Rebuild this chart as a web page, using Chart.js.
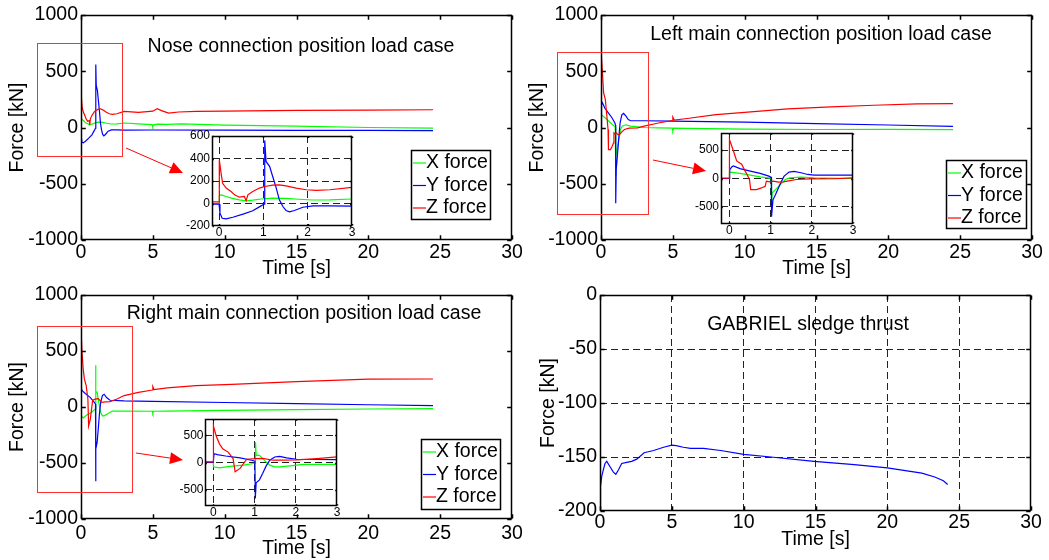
<!DOCTYPE html>
<html>
<head>
<meta charset="utf-8">
<title>Connection loads</title>
<script src="https://cdn.jsdelivr.net/npm/chart.js@4.4.0/dist/chart.umd.min.js"></script>
<style>
html, body { margin: 0; padding: 0; background: #fff; }
#fig { position: relative; width: 1049px; height: 560px; overflow: hidden; }
#fig canvas { position: absolute; }
</style>
</head>
<body>
<div id="fig">
  <canvas id="cNose"   width="540" height="280" style="left:0;top:0"></canvas>
  <canvas id="cLeft"   width="529" height="280" style="left:520px;top:0"></canvas>
  <canvas id="cRight"  width="540" height="280" style="left:0;top:280px"></canvas>
  <canvas id="cThrust" width="529" height="280" style="left:520px;top:280px"></canvas>
  <canvas id="iNose"   width="180" height="114" style="left:180px;top:126px"></canvas>
  <canvas id="iLeft"   width="172" height="115" style="left:689px;top:123px"></canvas>
  <canvas id="iRight"  width="172" height="111" style="left:173px;top:409px"></canvas>
</div>
<script>
// time [s] / force [kN] histories for each load case
const noseXt = [-0.16, 0, 0.005, 0.05, 0.16, 0.3, 0.46, 0.61, 0.76, 0.95, 1.2, 1.5, 1.8, 2.1, 2.5, 3.0, 4.0, 4.95, 5.0, 5.05, 5.3, 6.0, 7.0, 10, 15, 20, 24.5];
const noseXf = [0, 0, 70, 77, 62, 45, 33, 24, 30, 40, 48, 46, 38, 31, 32, 40, 33, 25, 8, 24, 30, 28, 32, 21, 12, 0, -6];
const noseYt = [-0.16, 0, 0.02, 0.07, 0.16, 0.31, 0.54, 0.76, 0.91, 1.02, 1.03, 1.06, 1.14, 1.21, 1.29, 1.36, 1.44, 1.51, 1.59, 1.70, 1.89, 2.12, 2.5, 3.0, 5, 10, 15, 20, 24.5];
const noseYf = [-6, -6, -86, -131, -137, -122, -95, -65, -30, -5, 561, 374, 330, 240, 137, 33, -27, -62, -74, -62, -33, -21, -21, -24, -22, -24, -25, -26, -27];
const noseZt = [-0.16, 0, 0.005, 0.045, 0.08, 0.16, 0.27, 0.35, 0.46, 0.57, 0.61, 0.65, 0.76, 0.91, 1.03, 1.21, 1.36, 1.51, 1.74, 1.97, 2.19, 2.5, 3.0, 4.0, 5.0, 5.3, 5.6, 6.1, 6.8, 8, 10, 15, 20, 24.5];
const noseZf = [15, 15, 389, 270, 180, 137, 107, 77, 56, 62, 24, 77, 107, 137, 151, 163, 166, 157, 137, 122, 116, 122, 143, 135, 145, 167, 150, 128, 138, 143, 146, 152, 155, 158];

const leftXt = [-0.2, 0, 0.005, 0.03, 0.26, 0.51, 0.75, 0.99, 1.02, 1.025, 1.04, 1.12, 1.24, 1.36, 1.47, 1.74, 2.06, 3.0, 4.0, 4.97, 5.0, 5.05, 6, 10, 15, 20, 24.5];
const leftXf = [0, 0, 100, 113, 89, 60, 30, 6, 0, -434, -256, -196, -107, -18, 12, 24, 12, 0, -3, -5, -30, -6, -8, -15, -18, -17, -18];
const leftYt = [-0.2, 0, 0.01, 0.06, 0.1, 0.26, 0.51, 0.75, 0.96, 1.02, 1.025, 1.06, 1.12, 1.24, 1.33, 1.45, 1.57, 1.74, 1.9, 2.06, 3.0, 5, 10, 15, 20, 24.5];
const leftYf = [0, 0, 150, 202, 220, 173, 131, 89, 42, 20, -673, -375, -286, -89, 42, 113, 125, 101, 71, 60, 60, 57, 47, 35, 22, 10];
const leftZt = [-0.2, 0, 0.005, 0.1, 0.18, 0.30, 0.43, 0.49, 0.52, 0.66, 0.78, 0.87, 0.9, 0.99, 1.07, 1.19, 1.31, 1.47, 1.63, 1.96, 2.54, 3.0, 4.0, 4.97, 5.0, 5.1, 6, 8, 10, 13, 16, 19, 22, 24.5];
const leftZf = [5, 5, 684, 488, 309, 250, 71, -18, -196, -196, -166, -137, -48, -59, -48, -65, -60, -36, -18, -6, -4, 12, 40, 62, 92, 66, 80, 115, 135, 165, 183, 198, 210, 213];

const rightXt = [-0.2, 0, 0.005, 0.15, 0.4, 0.73, 0.98, 1.02, 1.025, 1.04, 1.12, 1.2, 1.28, 1.37, 1.49, 1.61, 1.86, 2.18, 3.0, 4.97, 5.0, 5.05, 6, 10, 15, 20, 24.5];
const rightXf = [10, 10, -79, -97, -72, -49, -18, -10, 372, 132, 132, 72, 11, -49, -79, -79, -61, -36, -36, -38, -55, -38, -37, -30, -24, -18, -15];
const rightYt = [-0.2, 0, 0.02, 0.1, 0.3, 0.65, 0.93, 1.01, 1.02, 1.04, 1.12, 1.2, 1.28, 1.37, 1.49, 1.61, 1.78, 2.02, 3.0, 5, 10, 15, 20, 24.5];
const rightYf = [0, 0, 162, 144, 120, 84, 42, 24, -662, -374, -319, -199, -67, 42, 102, 114, 84, 60, 54, 50, 40, 30, 20, 12];
const rightZt = [-0.2, 0, 0.005, 0.07, 0.15, 0.23, 0.36, 0.48, 0.53, 0.65, 0.81, 1.04, 1.2, 1.45, 1.69, 2.02, 2.51, 3.0, 4.0, 4.97, 5.0, 5.08, 6, 8, 10.5, 15, 20, 24.5];
const rightZf = [10, 10, 670, 493, 343, 253, 191, 72, -170, -108, 60, 72, 75, 42, 45, 48, 72, 102, 130, 152, 182, 156, 170, 190, 202, 226, 248, 250];

const thrustT = [0, 0.02, 0.05, 0.12, 0.23, 0.35, 0.47, 0.7, 0.93, 1.1, 1.28, 1.51, 1.86, 2.2, 2.56, 3.07, 3.73, 4.43, 5.0, 5.3, 5.8, 6.3, 7.2, 8.4, 10, 11.9, 14.9, 17.7, 20, 22.4, 23.3, 23.9, 24.2];
const thrustF = [-199, -185, -177, -168, -162, -156, -154, -159, -164, -166, -162, -156, -155, -154, -152, -146, -144, -141, -139, -139.5, -141, -142, -142, -144, -147.5, -150, -154, -157, -160, -165, -168.5, -172, -175.5];

// tick labels
const timeTicks = [0, 5, 10, 15, 20, 25, 30];
const forceTicks = [-1000, -500, 0, 500, 1000];
const thrustTicks = [-200, -150, -100, -50, 0];
const zoomTimeTicks = [0, 1, 2, 3];
const noseZoomTicks = [-200, 0, 200, 400, 600];
const mainZoomTicks = [-500, 0, 500];

const FONT = '"Liberation Sans", Arial, Helvetica, sans-serif';
const BIG = 19.5;
Chart.defaults.font.family = FONT;
Chart.defaults.color = '#000';

// text, legend and zoom markers drawn over each panel (canvas pixels)
const notes = {
  cNose:   { title: ['Nose connection position load case', 301, 52], legend: [411, 150, 79, 69],
             rect: [37, 43, 85, 113], arrow: [126, 148, 183, 173] },
  cLeft:   { title: ['Left main connection position load case', 301, 40], legend: [426, 160, 80, 68],
             rect: [37, 52, 91, 162], arrow: [133, 160, 186, 171] },
  cRight:  { title: ['Right main connection position load case', 304, 39], legend: [421, 159, 79, 70],
             rect: [37, 46, 95, 166], arrow: [136, 173, 183, 180] },
  cThrust: { title: ['GABRIEL sledge thrust', 288, 50] }
};
const insets = { iNose: true, iLeft: true, iRight: true };

// matlab style box with inward ticks on all four sides
const framePlugin = {
  id: 'frame',
  beforeDraw(chart) {
    if (!insets[chart.canvas.id]) return;
    const a = chart.chartArea, c = chart.ctx;
    c.save();
    c.fillStyle = '#fff';
    c.fillRect(a.left, a.top, a.right - a.left, a.bottom - a.top);
    c.restore();
  },
  afterDatasetsDraw(chart) {
    const a = chart.chartArea, c = chart.ctx;
    const len = 0.01 * Math.max(a.right - a.left, a.bottom - a.top);
    const sx = chart.scales.x, sy = chart.scales.y;
    const l = a.left + 0.5, r = a.right - 0.5, t = a.top + 0.5, b = a.bottom - 0.5;
    c.save();
    c.strokeStyle = '#000';
    c.lineWidth = 1.5;
    c.beginPath();
    sx.ticks.forEach(k => {
      const p = Math.round(sx.getPixelForValue(k.value)) + 0.5;
      c.moveTo(p, b); c.lineTo(p, b - len);
      c.moveTo(p, t); c.lineTo(p, t + len);
    });
    sy.ticks.forEach(k => {
      const p = Math.round(sy.getPixelForValue(k.value)) + 0.5;
      c.moveTo(l, p); c.lineTo(l + len, p);
      c.moveTo(r, p); c.lineTo(r - len, p);
    });
    c.stroke();
    c.strokeRect(l, t, r - l, b - t);
    c.restore();
  }
};

const notesPlugin = {
  id: 'notes',
  afterDraw(chart) {
    const n = notes[chart.canvas.id];
    if (!n) return;
    const c = chart.ctx;
    c.save();
    c.font = BIG + 'px ' + FONT;
    c.fillStyle = '#000';
    if (n.title) {
      c.textAlign = 'center';
      c.textBaseline = 'alphabetic';
      c.fillText(n.title[0], n.title[1], n.title[2]);
    }
    if (n.legend) {
      const [lx, ly, lw, lh] = n.legend;
      c.fillStyle = '#fff';
      c.fillRect(lx, ly, lw, lh);
      c.strokeStyle = '#000';
      c.lineWidth = 1.5;
      c.strokeRect(lx + 0.5, ly + 0.5, lw, lh);
      c.textAlign = 'left';
      c.textBaseline = 'middle';
      chart.data.datasets.forEach((ds, i) => {
        const ry = ly + 13 + i * 22.5;
        c.strokeStyle = ds.borderColor;
        c.lineWidth = 1.2;
        c.beginPath();
        c.moveTo(lx + 2, ry); c.lineTo(lx + 15, ry);
        c.stroke();
        c.fillStyle = '#000';
        c.fillText(ds.label, lx + 15, ry);
      });
    }
    if (n.rect) {
      c.strokeStyle = '#ff3030';
      c.lineWidth = 1;
      c.strokeRect(n.rect[0] + 0.5, n.rect[1] + 0.5, n.rect[2], n.rect[3]);
    }
    if (n.arrow) {
      const [x1, y1, x2, y2] = n.arrow;
      const ang = Math.atan2(y2 - y1, x2 - x1);
      const hl = 13, hw = 6;
      const bx = x2 - hl * Math.cos(ang), by = y2 - hl * Math.sin(ang);
      c.strokeStyle = '#ff0000';
      c.fillStyle = '#ff0000';
      c.lineWidth = 1;
      c.beginPath();
      c.moveTo(x1, y1); c.lineTo(bx, by);
      c.stroke();
      c.beginPath();
      c.moveTo(x2, y2);
      c.lineTo(bx + hw * Math.sin(ang), by - hw * Math.cos(ang));
      c.lineTo(bx - hw * Math.sin(ang), by + hw * Math.cos(ang));
      c.closePath();
      c.fill();
    }
    c.restore();
  }
};

function lineSet(label, color, t, f, order) {
  return {
    label: label,
    data: t.map((x, i) => ({ x: x, y: f[i] })),
    borderColor: color,
    backgroundColor: color,
    borderWidth: 1.2,
    pointRadius: 0,
    tension: 0,
    fill: false,
    order: order
  };
}

function forceSets(xt, xf, yt, yf, zt, zf) {
  return [
    lineSet('X force', '#00ff00', xt, xf, 3),
    lineSet('Y force', '#0000ff', yt, yf, 2),
    lineSet('Z force', '#ff0000', zt, zf, 1)
  ];
}

function axis(pos, o) {
  return {
    type: 'linear',
    position: pos,
    min: o.min,
    max: o.max,
    afterBuildTicks: s => { s.ticks = o.ticks.map(v => ({ value: v })); },
    afterFit: s => { if (pos === 'left') s.width = o.size; else s.height = o.size; },
    ticks: {
      font: { size: o.font, lineHeight: 1 },
      color: '#000',
      padding: o.pad,
      maxRotation: 0,
      autoSkip: false,
      callback: v => String(v)
    },
    // dashed grid only inside the box, the frame plugin draws the edges
    grid: {
      display: !!o.grid,
      color: ctx => (ctx.tick && (ctx.tick.value === o.min || ctx.tick.value === o.max)) ? 'rgba(0,0,0,0)' : '#222',
      lineWidth: 1,
      drawTicks: false
    },
    border: { display: false, dash: [7, 4] },
    title: o.title ? {
      display: true,
      text: o.title,
      color: '#000',
      font: { size: BIG, lineHeight: 1 },
      padding: pos === 'left' ? { top: o.titlePad, bottom: 0 } : { top: 0, bottom: o.titlePad }
    } : { display: false }
  };
}

function plot(id, datasets, x, y, pad) {
  return new Chart(document.getElementById(id), {
    type: 'line',
    data: { datasets: datasets },
    options: {
      responsive: false,
      animation: false,
      devicePixelRatio: 1,
      events: [],
      layout: { padding: pad },
      scales: { x: axis('bottom', x), y: axis('left', y) },
      plugins: { legend: { display: false }, tooltip: { enabled: false } }
    },
    plugins: [framePlugin, notesPlugin]
  });
}

// main panels
const mainY = { min: -1000, max: 1000, ticks: forceTicks, size: 81, font: BIG, pad: 3, title: 'Force [kN]', titlePad: 8 };

plot('cNose', forceSets(noseXt, noseXf, noseYt, noseYf, noseZt, noseZf),
  { min: 0, max: 30, ticks: timeTicks, size: 40, font: BIG, pad: 3, title: 'Time [s]', titlePad: 2 },
  mainY, { left: 0, top: 15, right: 28, bottom: 0 });

plot('cLeft', forceSets(leftXt, leftXf, leftYt, leftYf, leftZt, leftZf),
  { min: 0, max: 30, ticks: timeTicks, size: 40, font: BIG, pad: 3, title: 'Time [s]', titlePad: 2 },
  mainY, { left: 0, top: 15, right: 17, bottom: 0 });

plot('cRight', forceSets(rightXt, rightXf, rightYt, rightYf, rightZt, rightZf),
  { min: 0, max: 30, ticks: timeTicks, size: 41, font: BIG, pad: 4.5, title: 'Time [s]', titlePad: 2 },
  mainY, { left: 0, top: 15, right: 28, bottom: 0 });

plot('cThrust', [lineSet('Thrust', '#0000ff', thrustT, thrustF, 1)],
  { min: 0, max: 30, ticks: timeTicks, size: 49, font: BIG, pad: 2.3, title: 'Time [s]', titlePad: 10.5, grid: true },
  { min: -200, max: 0, ticks: thrustTicks, size: 80, font: BIG, pad: 3, title: 'Force [kN]', titlePad: 19, grid: true },
  { left: 0, top: 15, right: 18, bottom: 0 });

// zoomed views of the first 3 s
plot('iNose', forceSets(noseXt, noseXf, noseYt, noseYf, noseZt, noseZf),
  { min: -0.16, max: 3, ticks: zoomTimeTicks, size: 14, font: 12, pad: 0.5, grid: true },
  { min: -200, max: 600, ticks: noseZoomTicks, size: 32, font: 12, pad: 2, grid: true },
  { left: 0, top: 10, right: 8, bottom: 0 });

plot('iLeft', forceSets(leftXt, leftXf, leftYt, leftYf, leftZt, leftZf),
  { min: -0.2, max: 3, ticks: zoomTimeTicks, size: 14, font: 12, pad: 1, grid: true },
  { min: -800, max: 800, ticks: mainZoomTicks, size: 32, font: 12, pad: 2, grid: true },
  { left: 0, top: 10, right: 8, bottom: 0 });

plot('iRight', forceSets(rightXt, rightXf, rightYt, rightYf, rightZt, rightZf),
  { min: -0.2, max: 3, ticks: zoomTimeTicks, size: 14, font: 12, pad: 1, grid: true },
  { min: -800, max: 800, ticks: mainZoomTicks, size: 32, font: 12, pad: 1.5, grid: true },
  { left: 0, top: 10, right: 8, bottom: 0 });
</script>
</body>
</html>
